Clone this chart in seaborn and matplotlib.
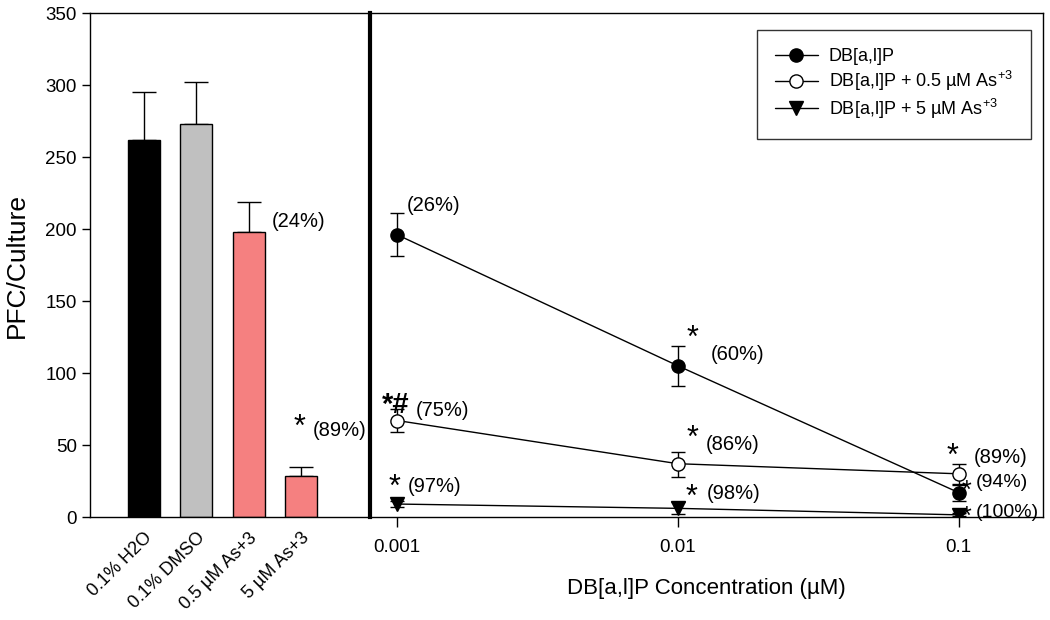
import numpy as np
import pandas as pd
import matplotlib
matplotlib.use("Agg")
import matplotlib.pyplot as plt
import seaborn as sns

# ---- data ----
bar_labels = ["0.1% H2O", "0.1% DMSO", "0.5 µM As+3", "5 µM As+3"]
bar_values = [262, 273, 198, 28.5]
bar_err_top = [295, 302, 219, 34.5]
bar_colors = ["#000000", "#c0c0c0", "#f58080", "#f58080"]

conc = [0.001, 0.01, 0.1]
dbp = [196, 105, 17]
dbp_lo = [181, 91, 11]
dbp_hi = [211, 119, 22]
dbp05 = [67, 37, 30]
dbp05_lo = [59, 28, 23]
dbp05_hi = [75, 45, 37]
dbp5 = [9, 6, 1.5]
dbp5_lo = [7, 2, 0.5]
dbp5_hi = [11, 10.5, 2.5]
series_names = ["DB[a,l]P", "DB[a,l]P + 0.5 µM As$^{+3}$", "DB[a,l]P + 5 µM As$^{+3}$"]
y_ticks = [0, 50, 100, 150, 200, 250, 300, 350]

sns.set_style("ticks")
plt.rcParams["font.family"] = ["Liberation Sans", "DejaVu Sans"]
plt.rcParams["mathtext.fontset"] = "custom"
plt.rcParams["mathtext.rm"] = "Liberation Sans"
plt.rcParams["mathtext.it"] = "Liberation Sans"
plt.rcParams["mathtext.bf"] = "Liberation Sans"
plt.rcParams["text.color"] = "black"
plt.rcParams["axes.labelcolor"] = "black"
plt.rcParams["xtick.color"] = "black"
plt.rcParams["ytick.color"] = "black"

fig = plt.figure(figsize=(10.5, 6.2), dpi=100)
axL = fig.add_axes([90 / 1050, 1 - 517 / 620, (370 - 90) / 1050, (517 - 13) / 620])
axR = fig.add_axes([370 / 1050, 1 - 517 / 620, (1043 - 370) / 1050, (517 - 13) / 620], sharey=axL)

# ---- left panel: bars ----
df_bar = pd.DataFrame({"label": bar_labels, "value": bar_values})
sns.barplot(data=df_bar, x="label", y="value", hue="label", palette=bar_colors,
            saturation=1, legend=False, edgecolor="black", linewidth=1.0, width=0.61, ax=axL)
xs = np.arange(len(bar_labels))
vals = np.array(bar_values)
axL.errorbar(xs, vals, yerr=[np.zeros_like(vals), np.array(bar_err_top) - vals],
             fmt="none", ecolor="black", elinewidth=1.0, capsize=8.5, capthick=1.0, zorder=1)
for p in axL.patches:
    p.set_zorder(2)
axL.set_xlim(-1.03, 4.32)
axL.set_ylim(0, 350)
axL.set_yticks(y_ticks)
axL.tick_params(axis="y", labelsize=13.5, direction="out", length=6, width=1)
axL.tick_params(axis="x", length=0, labelsize=13, pad=9)
axL.set_xticks(xs)
axL.set_xticklabels(bar_labels, rotation=45, ha="right", rotation_mode="anchor")
axL.set_xlabel("")
axL.set_ylabel("PFC/Culture", fontsize=19, labelpad=12)
for s in ["top", "left", "bottom"]:
    axL.spines[s].set_visible(True)
    axL.spines[s].set_linewidth(1.0)
    axL.spines[s].set_color("black")
axL.spines["right"].set_visible(False)

axL.text(2.45, 205, "(24%)", fontsize=14.5, va="center", ha="left")
axL.text(2.98, 62, "*", fontsize=22, va="center", ha="center")
axL.text(3.22, 60, "(89%)", fontsize=14.5, va="center", ha="left")

# ---- right panel: lines ----
specs = [
    (dbp, dbp_lo, dbp_hi, "o", "black"),
    (dbp05, dbp05_lo, dbp05_hi, "o", "white"),
    (dbp5, dbp5_lo, dbp5_hi, "v", "black"),
]
for (v, lo, hi, mk, fc), name in zip(specs, series_names):
    v = np.array(v, float)
    axR.errorbar(conc, v, yerr=[v - np.array(lo), np.array(hi) - v], fmt="none",
                 ecolor="black", elinewidth=1.0, capsize=5, capthick=1.0, zorder=2)
    sns.lineplot(x=conc, y=v, marker=mk, markersize=9.5, markerfacecolor=fc,
                 markeredgecolor="black", markeredgewidth=1.0, color="black",
                 linewidth=1.0, label=name, ax=axR, zorder=3)

axR.set_xscale("log")
axR.set_xlim(0.0008, 0.2)
axR.set_xticks(conc)
axR.set_xticklabels(["0.001", "0.01", "0.1"])
axR.minorticks_off()
axR.tick_params(axis="x", labelsize=13.5, direction="out", length=7, width=1, pad=9)
axR.tick_params(axis="y", left=False, labelleft=False)
axR.set_xlabel("DB[a,l]P Concentration (µM)", fontsize=16, labelpad=16)
axR.set_ylabel("")
for s in ["top", "right", "bottom"]:
    axR.spines[s].set_visible(True)
    axR.spines[s].set_linewidth(1.0)
    axR.spines[s].set_color("black")
axR.spines["left"].set_visible(True)
axR.spines["left"].set_linewidth(3.0)
axR.spines["left"].set_color("black")

leg = axR.legend(loc="upper right", bbox_to_anchor=(0.982, 0.966), fontsize=13,
                 frameon=True, fancybox=False, edgecolor="black", handlelength=2.4,
                 borderpad=1.0, labelspacing=0.2, handletextpad=0.6, borderaxespad=0)
leg.get_frame().set_linewidth(1.0)

ann_pct = [
    (0.00108, 216, "(26%)"), (0.0131, 113, "(60%)"), (0.00116, 74, "(75%)"),
    (0.0126, 50, "(86%)"), (0.00109, 21, "(97%)"), (0.0127, 16, "(98%)"),
    (0.113, 41, "(89%)"),
]
for x, y, t in ann_pct:
    axR.text(x, y, t, fontsize=14.5, va="center", ha="left")
for x, y, t in [(0.1155, 24, "(94%)"), (0.1155, 3, "(100%)")]:
    axR.text(x, y, t, fontsize=14, va="center", ha="left")
ann_star = [
    (0.0113, 124, "*"), (0.0113, 54, "*"), (0.00098, 20, "*"), (0.0112, 13, "*"),
    (0.0953, 42, "*"),
]
for x, y, t in ann_star:
    axR.text(x, y, t, fontsize=22, va="center", ha="center")
for x, y in [(0.107, 18), (0.107, 0)]:
    axR.text(x, y, "*", fontsize=18, va="center", ha="center")
axR.text(0.00088, 78, "*#", fontsize=21, va="center", ha="left", fontweight="bold")

fig.savefig("out.png", dpi=100)
